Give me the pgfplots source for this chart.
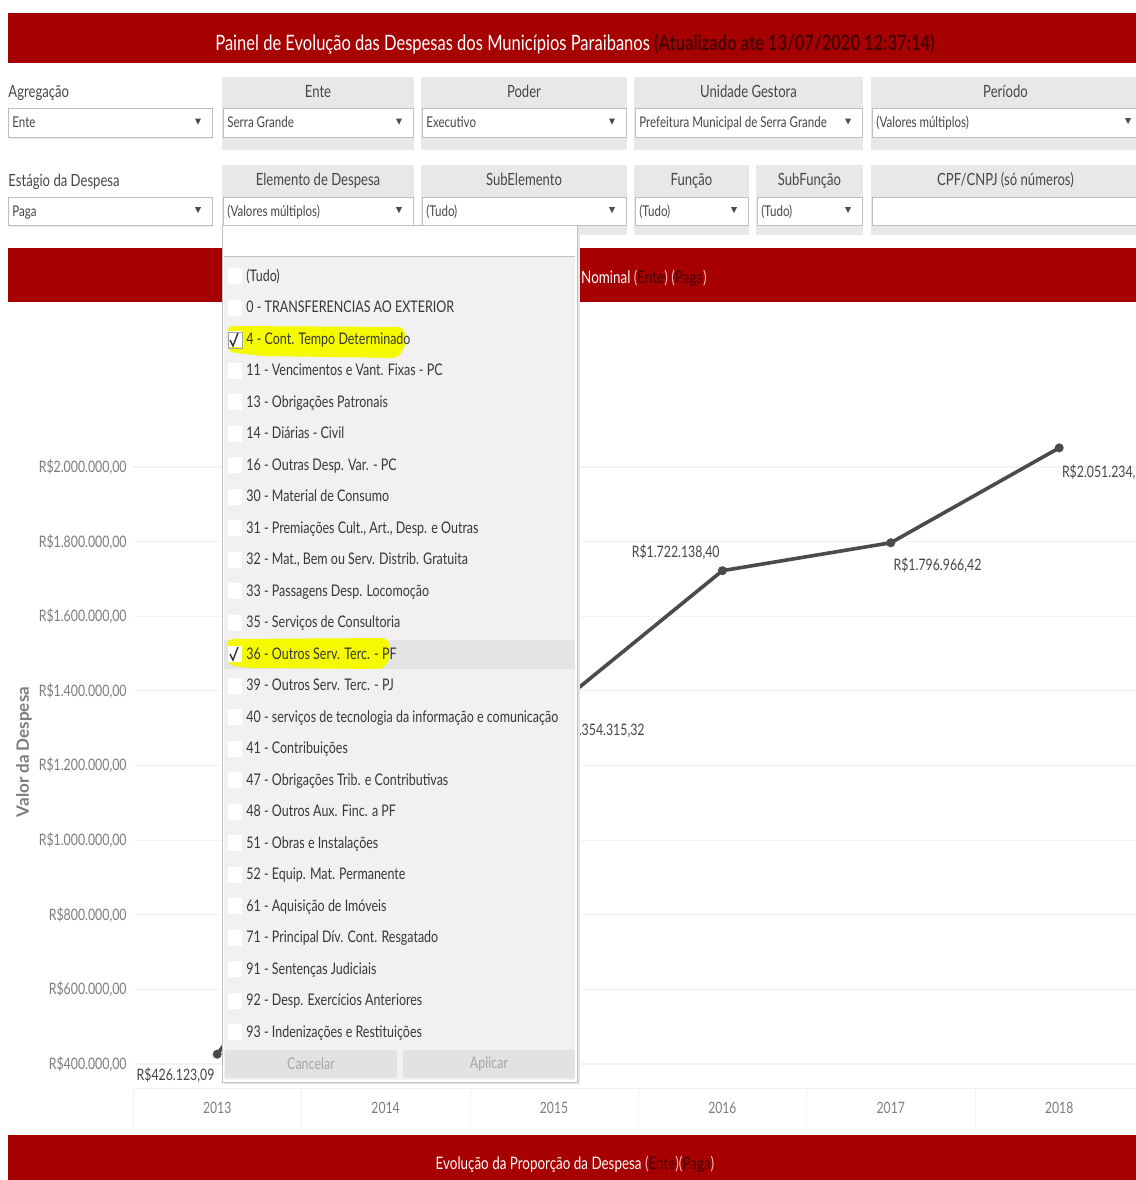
\documentclass[border=0pt]{standalone}
\usepackage{pgfplots}
\usepackage{pgfplotstable}
\pgfplotsset{compat=1.18}
\usepackage{fontspec}
\setmainfont{Lato}[FakeStretch=0.78]
\newfontfamily\widefont{Lato}

\definecolor{painelred}{RGB}{166,0,0}
\definecolor{titledark}{RGB}{70,0,0}
\definecolor{parenpink}{RGB}{255,190,190}
\definecolor{filtergrey}{RGB}{232,232,232}
\definecolor{fieldline}{RGB}{190,190,190}
\definecolor{labeltext}{RGB}{70,70,70}
\definecolor{ticktext}{RGB}{125,125,125}
\definecolor{linegrey}{RGB}{75,75,75}
\definecolor{gridgrey}{RGB}{243,243,243}
\definecolor{listbg}{RGB}{241,241,241}
\definecolor{hoverbg}{RGB}{228,228,228}
\definecolor{marker}{RGB}{245,250,0}
\definecolor{btnbg}{RGB}{226,226,226}
\definecolor{btntext}{RGB}{165,165,165}

\newcommand\fs[1]{\fontsize{#1}{#1}\selectfont}

% year, amount paid, printed label, label anchor angle (0: label left of point,
% 180: label right of point), label vertical offset (pt)
\pgfplotstableread{
ano  valor       rotulo            ang  dy
2013 426123.09   R\$426.123,09     0    -10.5
2014 1030000.00  R\$1.030.000,00   180  -11
2015 1354315.32  R\$1.354.315,32   180  -11
2016 1722138.40  R\$1.722.138,40   0    9.5
2017 1796966.42  R\$1.796.966,42   180  -11
2018 2051234.30  R\$2.051.234,30   180  -12
}\despesa

% filter label box
\newcommand\filtro[5]{% x1, y1, x2, y2, label
  \fill[filtergrey] (#1,#2) rectangle (#3,#4);
  \node[anchor=base, text=labeltext, font=\fs{8.4}] at ({(#1+#3)/2},#2+20) {#5};
}
% drop-down field
\newcommand\campo[6]{% x1, y1, x2, y2, value, arrow (y/n)
  \fill[black!8] (#1+1,#2+1) rectangle (#3+1,#4+1.5);
  \filldraw[fill=white, draw=fieldline, line width=0.4pt] (#1,#2) rectangle (#3,#4);
  \node[anchor=base west, text=labeltext, font=\fs{7.4}, inner sep=0pt] at (#1+4,{(#2+#4)/2+5}) {#5};
  \ifx#6y\fill[black!70] (#3-17,{(#2+#4)/2-4}) -- (#3-11,{(#2+#4)/2-4}) -- (#3-14,{(#2+#4)/2+2}) -- cycle;\fi
}

\begin{document}
\begin{tikzpicture}
\begin{scope}[x=0.5pt,y=-0.5pt]
  \fill[white] (0,0) rectangle (1136,1180);
  % header
  \fill[painelred] (8,13) rectangle (1136,63);
  \node[anchor=base, font=\fs{10.6}, inner sep=0pt] at (575,50)
    {\color{white}Painel de Evolução das Despesas dos Municípios Paraibanos\ {\bfseries\color{titledark}(Atualizado ate 13/07/2020 12:37:14)}};
  % filter row 1
  \node[anchor=base west, text=labeltext, font=\fs{8.4}, inner sep=0pt] at (8,97) {Agregação};
  \filtro{222}{77}{414}{150}{Ente}
  \filtro{421}{77}{627}{150}{Poder}
  \filtro{634}{77}{863}{150}{Unidade Gestora}
  \filtro{871}{77}{1140}{150}{Período}
  \campo{8}{108}{212}{137}{Ente}{y}
  \campo{223}{108}{413}{137}{Serra Grande}{y}
  \campo{422}{108}{626}{137}{Executivo}{y}
  \campo{635}{108}{862}{137}{Prefeitura Municipal de Serra Grande}{y}
  \campo{872}{108}{1142}{137}{(Valores múltiplos)}{n}
  \fill[black!70] (1125,118) -- (1131,118) -- (1128,124) -- cycle;
  % filter row 2
  \node[anchor=base west, text=labeltext, font=\fs{8.4}, inner sep=0pt] at (8,186) {Estágio da Despesa};
  \filtro{222}{165}{414}{235}{Elemento de Despesa}
  \filtro{421}{165}{627}{235}{SubElemento}
  \filtro{634}{165}{749}{235}{Função}
  \filtro{756}{165}{863}{235}{SubFunção}
  \filtro{871}{165}{1140}{235}{CPF/CNPJ (só números)}
  \campo{8}{197}{212}{225}{Paga}{y}
  \campo{223}{197}{413}{225}{(Valores múltiplos)}{y}
  \campo{422}{197}{626}{225}{(Tudo)}{y}
  \campo{635}{197}{748}{225}{(Tudo)}{y}
  \campo{757}{197}{862}{225}{(Tudo)}{y}
  \campo{872}{197}{1142}{225}{}{n}
  % chart title bar
  \fill[painelred] (8,248) rectangle (1136,302);
  \node[anchor=base east, font=\fs{8.6}, inner sep=0pt] at (707,283)
    {\color{white}Evolução da Despesa Nominal {\color{parenpink}(}{\color{titledark}Ente}{\color{parenpink})} {\color{parenpink}(}{\color{titledark}Paga}{\color{parenpink})}};
  % year header row
  \draw[black!6, line width=0.5pt] (133,1088) -- (1140,1088);
  \foreach \xs in {133,301,470,638,806,975}
    \draw[black!5, line width=0.5pt] (\xs,1088) -- (\xs,1128);
  % vertical axis title
  \node[rotate=90, font=\widefont\bfseries\fs{8.5}, text=ticktext] at (24,752) {Valor da Despesa};
  % bottom bar
  \fill[painelred] (8,1135) rectangle (1136,1185);
  \node[anchor=base, font=\fs{8.6}, inner sep=0pt] at (575,1169)
    {\color{white}Evolução da Proporção da Despesa {\color{parenpink}(}{\color{titledark}Ente}{\color{parenpink})(}{\color{titledark}Paga}{\color{parenpink})}};
\end{scope}

\begin{axis}[
  at={(66.5pt,-155.15pt)}, anchor=north west,
  scale only axis, width=505.2pt, height=388.95pt,
  xmin=2012.5, xmax=2018.5, ymin=335000, ymax=2420000,
  clip=false,
  axis line style={draw=none},
  major tick length=0pt,
  xtick={2013,2014,2015,2016,2017,2018},
  xticklabels={2013,2014,2015,2016,2017,2018},
  ytick={400000,600000,800000,1000000,1200000,1400000,1600000,1800000,2000000},
  yticklabels={{R\$400.000,00},{R\$600.000,00},{R\$800.000,00},{R\$1.000.000,00},{R\$1.200.000,00},{R\$1.400.000,00},{R\$1.600.000,00},{R\$1.800.000,00},{R\$2.000.000,00}},
  ymajorgrids, major grid style={draw=gridgrey, line width=0.6pt},
  yticklabel style={font=\fs{7.9}, text=ticktext, anchor=east, inner sep=0pt, xshift=-3pt},
  xticklabel style={font=\fs{7.8}, text=ticktext, anchor=center, inner sep=0pt, yshift=-10pt},
  scaled y ticks=false,
  /pgf/number format/assume math mode=true,
]
\addplot[linegrey, line width=1.8pt, mark=*, mark size=1.3pt,
  point meta=explicit symbolic,
  visualization depends on={\thisrow{ang} \as \lblang},
  visualization depends on={\thisrow{dy} \as \lbldy},
  nodes near coords,
  every node near coord/.append style={font=\fs{7.9}, text=labeltext, anchor=\lblang, yshift=\lbldy pt, inner sep=0.5pt}]
  table[x=ano, y=valor, meta=rotulo] {\despesa};
\end{axis}

\begin{scope}[x=0.5pt,y=-0.5pt]
  % open drop-down list of "Elemento de Despesa"
  \fill[black!10] (224,227) rectangle (580,1084);
  \filldraw[fill=white, draw=black!25, line width=0.4pt] (222,225) rectangle (577,1082);
  \draw[black!25, line width=0.4pt] (224,256) -- (575,256);
  \fill[listbg] (224,257) rectangle (575,1080);
  \fill[hoverbg] (224,640) rectangle (575,669);
  \fill[marker, rounded corners=3pt] (227,326) -- (404,327) -- (406,345) -- (398,358) -- (262,356) -- (228,352) -- cycle;
  \fill[marker, rounded corners=3pt] (227,639) -- (388,638) -- (391,656) -- (384,669) -- (250,668) -- (228,665) -- cycle;
  \foreach \t [count=\i from 0] in {(Tudo), 0 - TRANSFERENCIAS AO EXTERIOR, 4 - Cont. Tempo Determinado,
     11 - Vencimentos e Vant. Fixas - PC, 13 - Obrigações Patronais, 14 - Diárias - Civil,
     16 - Outras Desp. Var. - PC, 30 - Material de Consumo, {31 - Premiações Cult., Art., Desp. e Outras},
     {32 - Mat., Bem ou Serv. Distrib. Gratuita}, 33 - Passagens Desp. Locomoção, 35 - Serviços de Consultoria,
     36 - Outros Serv. Terc. - PF, 39 - Outros Serv. Terc. - PJ, 40 - serviços de tecnologia da informação e comunicação,
     41 - Contribuições, 47 - Obrigações Trib. e Contributivas, 48 - Outros Aux. Finc. a PF,
     51 - Obras e Instalações, 52 - Equip. Mat. Permanente, 61 - Aquisição de Imóveis,
     71 - Principal Dív. Cont. Resgatado, 91 - Sentenças Judiciais, 92 - Desp. Exercícios Anteriores,
     93 - Indenizações e Restituições} {
    \pgfmathsetmacro\yy{276+31.5*\i}
    \fill[white] (228,\yy-8) rectangle (242,\yy+8);
    \node[anchor=base west, text=black!78, font=\fs{8}, inner sep=0pt] at (246,\yy+5) {\t};
  }
  % ticked boxes
  \draw[black!35, line width=0.4pt] (228,332) rectangle (242,348);
  \draw[black!80, line width=0.7pt] (230,340) -- (233,346) -- (238,333);
  \draw[black!80, line width=0.7pt] (230,654) -- (233,660) -- (238,647);
  % buttons
  \fill[btnbg] (225,1050) rectangle (397,1078);
  \fill[btnbg] (403,1050) rectangle (575,1078);
  \node[text=btntext, font=\fs{8}] at (311,1064) {Cancelar};
  \node[text=btntext, font=\fs{8}] at (489,1064) {Aplicar};
\end{scope}
\pgfresetboundingbox
\useasboundingbox (0,0) rectangle (568pt,-590pt);
\end{tikzpicture}
\end{document}
